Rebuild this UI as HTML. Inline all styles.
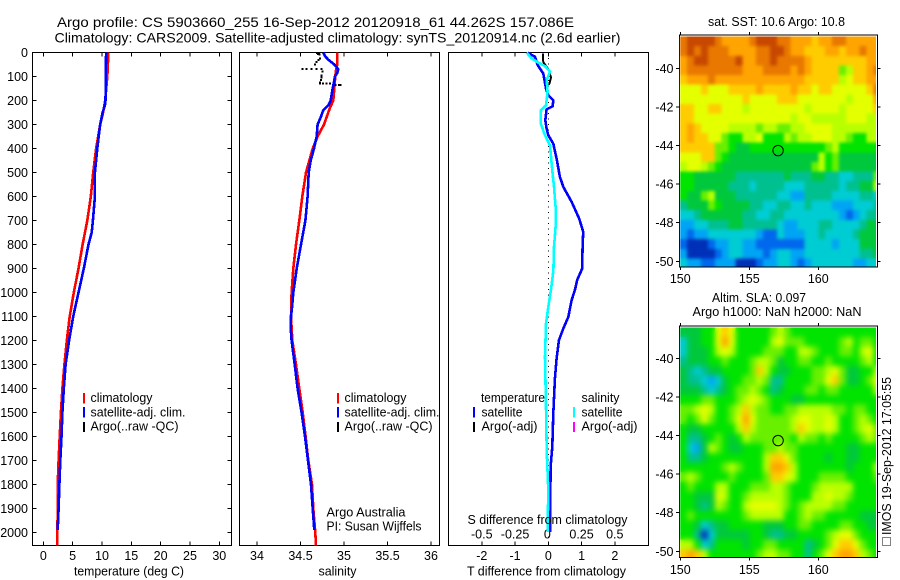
<!DOCTYPE html>
<html lang="en">
<head>
<meta charset="utf-8">
<title>Argo profile CS 5903660_255</title>
<style>
html,body{margin:0;padding:0;background:#fff;}
svg{display:block;font-family:"Liberation Sans",Arial,sans-serif;fill:#000;}
svg text{font-size:12.5px;}
.title{font-size:14px;}
.crisp{shape-rendering:crispEdges;}
</style>
</head>
<body>
<svg id="chart" xmlns="http://www.w3.org/2000/svg" width="900" height="580" viewBox="0 0 900 580">
  <rect x="0" y="0" width="900" height="580" fill="#fff"/>
  <text class="title" x="57" y="27" textLength="517" lengthAdjust="spacingAndGlyphs">Argo profile: CS 5903660_255 16-Sep-2012 20120918_61 44.262S 157.086E</text>
  <text class="title" x="54.5" y="42.5" textLength="566" lengthAdjust="spacingAndGlyphs">Climatology: CARS2009. Satellite-adjusted climatology: synTS_20120914.nc (2.6d earlier)</text>

  <g id="p1"></g>
  <g id="p2"></g>
  <g id="p3"></g>
  <g id="m1"></g>
  <g id="m2"></g>

  <text x="74" y="575.5" textLength="110" lengthAdjust="spacingAndGlyphs">temperature (deg C)</text>
  <text x="318.5" y="575.5" textLength="38" lengthAdjust="spacingAndGlyphs">salinity</text>
  <text x="467" y="575.5" textLength="159" lengthAdjust="spacingAndGlyphs">T difference from climatology</text>
  <text x="467.5" y="524" textLength="160" lengthAdjust="spacingAndGlyphs">S difference from climatology</text>

  <g>
    <rect class="crisp" x="83" y="393" width="2" height="10.5" fill="#f00"/>
    <rect class="crisp" x="83" y="407" width="2" height="10.5" fill="#00f"/>
    <rect class="crisp" x="83" y="422" width="2" height="10" fill="#000"/>
    <text x="90.5" y="402" textLength="62" lengthAdjust="spacingAndGlyphs">climatology</text>
    <text x="90.5" y="416.5" textLength="95" lengthAdjust="spacingAndGlyphs">satellite-adj. clim.</text>
    <text x="90.5" y="430.5" textLength="88" lengthAdjust="spacingAndGlyphs">Argo(..raw -QC)</text>
  </g>
  <g>
    <rect class="crisp" x="337" y="393" width="2" height="10.5" fill="#f00"/>
    <rect class="crisp" x="337" y="407" width="2" height="10.5" fill="#00f"/>
    <rect class="crisp" x="337" y="422" width="2" height="10" fill="#000"/>
    <text x="344.5" y="402" textLength="62" lengthAdjust="spacingAndGlyphs">climatology</text>
    <text x="344.5" y="416.5" textLength="95" lengthAdjust="spacingAndGlyphs">satellite-adj. clim.</text>
    <text x="344.5" y="430.5" textLength="88" lengthAdjust="spacingAndGlyphs">Argo(..raw -QC)</text>
  </g>
  <text x="326.5" y="516.5" textLength="79" lengthAdjust="spacingAndGlyphs">Argo Australia</text>
  <text x="326.5" y="530.5" textLength="95" lengthAdjust="spacingAndGlyphs">PI: Susan Wijffels</text>

  <g>
    <text x="481" y="402" textLength="64" lengthAdjust="spacingAndGlyphs">temperature</text>
    <rect class="crisp" x="473" y="407" width="2" height="10.5" fill="#00f"/>
    <rect class="crisp" x="473" y="422" width="2" height="10" fill="#000"/>
    <text x="481.5" y="416.5" textLength="41" lengthAdjust="spacingAndGlyphs">satellite</text>
    <text x="481.5" y="430.5" textLength="56" lengthAdjust="spacingAndGlyphs">Argo(-adj)</text>
    <text x="581.5" y="402" textLength="38" lengthAdjust="spacingAndGlyphs">salinity</text>
    <rect class="crisp" x="573" y="407" width="2" height="10.5" fill="#0ff"/>
    <rect class="crisp" x="573" y="422" width="2" height="10" fill="#f0f"/>
    <text x="581.5" y="416.5" textLength="41" lengthAdjust="spacingAndGlyphs">satellite</text>
    <text x="581.5" y="430.5" textLength="56" lengthAdjust="spacingAndGlyphs">Argo(-adj)</text>
  </g>

  <text x="708" y="26" textLength="137" lengthAdjust="spacingAndGlyphs">sat. SST: 10.6 Argo: 10.8</text>
  <text x="712" y="302" textLength="94" lengthAdjust="spacingAndGlyphs">Altim. SLA: 0.097</text>
  <text x="692.5" y="316" textLength="169" lengthAdjust="spacingAndGlyphs">Argo h1000: NaN h2000: NaN</text>

  <rect class="crisp" x="882.5" y="537.5" width="8" height="8" fill="none" stroke="#000" stroke-width="1" stroke-dasharray="1 1"/>
  <text transform="translate(891,535) rotate(-90)" textLength="158" lengthAdjust="spacingAndGlyphs">IMOS 19-Sep-2012 17:05:55</text>
</svg>

<script>
/* Depth axis and tick labels */
const depthTicks = [0,100,200,300,400,500,600,700,800,900,1000,1100,1200,1300,1400,1500,1600,1700,1800,1900,2000];
const tempTicks = [0,5,10,15,20,25,30];
const salTicks = [34,34.5,35,35.5,36];
const salTickLabels = ['34','34.5','35','35.5','36'];
const tDiffTicks = [-2,-1,0,1,2];
const sDiffTicks = [-0.5,-0.25,0,0.25,0.5];
const sDiffTickLabels = ['-0.5','-0.25','0','0.25','0.5'];
const lonTicks = [150,155,160];
const sstLatTicks = [-40,-42,-44,-46,-48,-50];
const slaLatTicks = [-40,-42,-44,-46,-48,-50];

/* Temperature profiles */
const tempClimDepth = [0,60,100,200,250,300,400,500,600,700,800,900,1000,1100,1200,1300,1400,1500,1600,1700,1800,1900,2000,2055];
const tempClim = [11.08,11.0,10.9,10.55,10.2,9.7,9.0,8.5,8.1,7.5,6.7,6.0,5.2,4.5,4.0,3.6,3.25,3.0,2.8,2.6,2.45,2.45,2.4,2.35];
const tempSatDepth = [0,100,200,220,250,300,350,400,500,600,700,750,800,900,1000,1100,1200,1300,1400,1500,1600,1700,1800,1900,1990];
const tempSat = [10.7,10.65,10.6,10.5,10.1,9.7,9.45,9.2,8.8,8.8,8.45,8.25,7.7,6.9,6.0,5.1,4.4,3.8,3.5,3.25,3.1,2.9,2.75,2.6,2.45];
const tempArgoDepth = [5,40,80,110,140];
const tempArgo = [10.75,10.75,10.8,10.85,10.85];

/* Salinity profiles */
const salClimDepth = [0,50,75,100,200,230,300,350,400,500,600,700,800,900,1000,1100,1200,1300,1400,1500,1600,1700,1800,1900,2000,2055];
const salClim = [34.923,34.923,34.908,34.9,34.877,34.839,34.77,34.697,34.64,34.563,34.521,34.486,34.448,34.417,34.398,34.391,34.406,34.448,34.486,34.525,34.559,34.59,34.632,34.647,34.67,34.678];
const salSatDepth = [0,15,30,50,70,85,100,150,200,220,240,270,300,350,400,450,500,600,700,800,900,1000,1050,1100,1150,1200,1300,1400,1500,1600,1700,1800,1900,1990];
const salSat = [34.762,34.782,34.82,34.889,34.935,34.923,34.897,34.87,34.847,34.82,34.762,34.732,34.697,34.686,34.655,34.617,34.594,34.582,34.556,34.506,34.456,34.417,34.406,34.391,34.387,34.398,34.433,34.467,34.513,34.552,34.586,34.621,34.64,34.659];
const salArgoDepth = [2,4,6,9,25,32,40,50,68,68,68,68,68,80,95,105,115,125,130,130,130,130,130,135,135,135];
const salArgo = [34.69,34.71,34.7,34.72,34.724,34.705,34.686,34.667,34.521,34.571,34.628,34.686,34.743,34.751,34.743,34.74,34.735,34.725,34.724,34.76,34.8,34.839,34.877,34.905,34.94,34.96];

/* Differences from climatology */
const tDiffDepth = [0,18,53,88,150,178,199,224,237,282,317,345,380,442,518,560,622,692,747,824,900,948,990,1032,1102,1150,1199,1275,1359,1504,1643,1726,1997];
const tDiff = [-0.63,-0.4,-0.32,-0.15,-0.07,0,0.15,0.13,-0.05,-0.09,-0.05,0,0.15,0.25,0.35,0.45,0.7,0.93,1.05,1.03,1.02,0.87,0.8,0.7,0.6,0.45,0.32,0.25,0.2,0.15,0.12,0.07,0.05];
const sDiffDepth = [0,25,42,57,80,115,164,220,240,296,345,387,463,560,643,726,810,907,987,1060,1130,1268,1476,1657,1824,1997];
const sDiff = [-0.163,-0.125,-0.075,-0.025,0.013,-0.012,-0.005,-0.017,-0.055,-0.057,-0.025,0.013,0.025,0.043,0.055,0.055,0.043,0.038,0.02,0,-0.017,-0.025,-0.017,-0.012,0,-0.005];
const tArgoDiffDepth = [5,20,40,60,75,90,105,120,135];
const tArgoDiff = [-0.16,-0.16,-0.15,-0.05,0.03,0.05,0.08,0.05,0.02];

/* Map colour levels */
const levelColors = ['#0030b8','#0068ec','#00a4f4','#00ccd4','#00c090','#00c83c','#00e400','#68f000','#b8ff00','#e4ff00','#ffcc00','#ffa400','#e87800','#c84800'];

/* Satellite SST, colour level per half-degree cell, north to south */
const sstRows = [
[12,13,13,13,13,12,11,11,11,11,12,13,13,13,12,12,11,11,11,10,11,11,12,12,11,11,11,11,11],
[12,13,12,13,12,12,12,11,11,11,11,12,12,13,13,12,11,11,10,10,10,11,11,10,11,11,12,11,11],
[11,12,13,13,12,12,12,12,13,11,11,12,12,13,12,12,12,12,11,10,10,10,10,10,10,10,10,11,11],
[11,12,12,12,12,12,12,12,12,11,11,11,12,12,12,12,11,12,11,10,10,10,10,7,8,10,10,11,12],
[10,11,11,11,12,11,11,11,11,11,11,11,11,11,11,11,11,11,10,10,10,10,10,8,9,10,10,11,11],
[9,9,9,10,9,9,9,10,10,10,10,11,10,10,10,10,11,10,10,9,10,10,9,9,9,9,9,10,12],
[9,9,9,9,9,9,9,9,9,10,9,9,9,9,10,10,10,9,9,9,9,9,9,9,8,9,9,9,11],
[10,10,9,9,10,10,9,9,9,8,9,9,9,9,9,9,9,9,8,9,9,9,9,8,9,9,9,9,10],
[10,10,9,9,9,9,9,9,9,9,9,9,9,9,9,9,8,9,9,8,8,8,8,8,9,9,9,8,8],
[10,11,10,9,9,9,9,8,8,8,8,7,8,8,7,7,8,8,9,9,9,9,8,8,8,8,8,8,8],
[10,11,10,10,9,9,7,6,6,8,8,9,6,6,6,8,7,8,8,9,9,9,8,8,7,6,6,8,8],
[10,10,10,10,10,7,7,6,5,5,6,6,6,6,6,6,6,6,6,6,6,7,8,6,6,6,6,6,6],
[9,9,9,10,10,7,6,5,5,5,5,5,5,5,5,5,5,5,5,5,8,6,7,5,5,5,5,5,5],
[8,9,9,8,7,6,5,5,5,5,5,5,5,5,5,5,5,5,5,7,8,6,7,5,5,5,5,5,5],
[6,6,5,5,5,5,5,5,4,4,4,4,4,4,4,5,4,4,4,5,5,4,4,3,3,4,4,4,7],
[6,6,5,5,5,5,5,4,4,4,3,4,4,4,4,3,3,3,4,4,4,4,4,3,4,4,5,5,8],
[6,5,5,7,8,5,5,5,4,4,4,4,4,4,3,3,2,2,4,4,4,4,3,3,3,3,4,4,3],
[4,5,5,5,7,6,5,5,5,5,4,4,3,3,4,4,3,3,4,3,3,3,2,2,2,3,3,3,4],
[3,3,4,5,5,5,5,5,5,4,4,3,3,4,4,3,3,3,3,3,3,3,3,2,1,2,3,4,4],
[2,2,3,3,4,4,4,5,5,4,4,4,4,4,3,2,2,3,3,3,4,4,3,3,3,3,4,5,5],
[2,1,2,2,3,3,3,3,3,3,3,2,1,1,3,2,2,2,3,3,4,3,3,3,3,4,5,5,5],
[1,0,0,0,1,2,2,3,3,2,2,1,1,1,1,1,1,1,3,3,3,3,2,3,3,3,5,5,5],
[2,0,0,0,0,1,2,3,3,2,2,2,1,2,3,3,2,2,3,3,3,3,3,3,3,3,4,4,5],
[3,2,2,1,1,2,2,2,0,0,0,1,2,2,3,3,2,1,2,3,3,3,3,3,3,2,2,3,3]
];

/* Altimetric SLA, colour level per half-degree cell, north to south */
const slaRows = [
[5,5,5,6,6,9,10,9,6,6,6,6,6,7,8,7,6,6,6,6,6,6,6,6,6,6,6,6,6],
[3,5,5,6,6,9,11,9,6,6,6,6,6,8,9,7,7,7,6,6,6,6,6,7,8,6,7,7,6],
[3,5,5,5,6,8,9,8,6,6,6,6,7,7,7,6,6,8,8,7,6,6,6,7,7,6,8,9,6],
[4,5,5,5,6,6,7,6,6,6,7,8,8,7,5,6,6,7,7,6,6,7,6,6,6,6,7,8,6],
[5,4,3,4,5,5,6,6,6,6,7,10,8,6,5,5,6,6,6,7,7,8,9,7,5,5,6,6,8],
[5,4,4,3,2,3,5,6,6,7,7,8,7,4,4,6,6,6,6,7,7,9,10,7,5,5,6,7,9],
[5,5,5,4,3,4,5,6,7,7,8,7,6,4,5,6,6,6,7,7,6,7,7,6,6,6,6,6,8],
[6,6,6,7,7,6,6,6,7,8,9,8,7,6,6,6,5,5,6,6,6,6,6,6,6,6,6,6,6],
[7,7,8,9,8,6,6,7,8,10,8,7,7,6,6,7,7,8,8,8,8,8,7,7,6,7,7,6,6],
[7,6,7,9,7,6,6,7,9,11,9,7,7,7,7,7,8,9,9,8,8,9,8,6,6,7,8,7,6],
[6,5,5,6,6,6,6,6,8,10,8,7,7,7,7,7,8,10,9,8,8,9,8,6,6,7,8,9,7],
[6,4,4,5,6,7,6,5,6,8,7,7,7,7,7,7,6,8,7,7,6,7,6,6,6,6,7,8,7],
[6,3,2,5,8,7,6,5,5,6,6,6,7,7,8,7,7,6,6,6,6,6,6,6,5,5,6,6,6],
[6,4,4,5,6,6,6,6,6,6,6,6,8,10,10,9,7,6,6,6,6,5,6,6,5,5,6,6,6],
[6,6,6,6,6,6,7,8,7,6,6,6,8,11,11,10,8,6,6,6,6,6,6,6,5,6,6,6,8],
[7,8,7,6,6,6,6,7,6,6,6,6,7,10,10,9,8,6,6,6,7,7,7,7,6,6,6,6,7],
[6,7,6,6,6,8,8,6,6,6,7,7,7,8,8,7,6,6,6,7,8,8,8,8,8,6,6,6,6],
[6,6,5,5,5,9,8,6,6,7,8,8,8,8,8,7,6,6,6,8,8,9,8,8,7,6,6,6,6],
[6,6,5,4,5,8,7,6,6,8,9,9,9,9,8,7,6,7,8,8,8,8,7,7,6,6,6,6,6],
[6,7,6,6,6,6,6,6,6,7,8,8,8,8,8,6,6,7,8,7,7,6,6,6,6,6,5,5,5],
[6,6,5,3,4,5,5,6,6,6,6,6,5,5,5,6,6,7,7,6,6,6,6,7,7,6,6,5,5],
[6,6,4,0,3,5,5,5,5,5,6,6,5,4,4,5,5,6,6,6,6,7,8,9,9,7,6,6,6],
[8,8,6,3,4,6,6,6,6,5,6,6,7,7,6,6,6,6,4,5,6,7,9,10,10,9,7,6,6],
[10,11,10,8,6,6,6,6,6,6,6,7,8,8,7,7,6,6,4,6,7,9,10,11,11,10,8,7,6]
];

/* Float location */
const floatLon = [157.086];
const floatLat = [-44.262];

const NS = 'http://www.w3.org/2000/svg';
function mk(parent, tag, attrs) {
  const el = document.createElementNS(NS, tag);
  for (const k in attrs) el.setAttribute(k, attrs[k]);
  parent.appendChild(el);
  return el;
}

/* Axis functions */
const PANEL_TOP = 52.5, PANEL_BOTTOM = 545.5;
const LINE_W = 2.6;
const depthY = d => PANEL_TOP + d * 0.24;
const tempX = v => 43.3 + v * 5.867;
const salX = v => 257 + (v - 34) * 87;
const tDiffX = v => 548.3 + v * 33.25;
const sDiffX = v => 548.3 + v * 133;
const lonX = v => 680.3 + (v - 150) * 13.8;
const sstLatY = v => 68.3 + (-40 - v) * 19.3;
const slaLatY = v => 358.3 + (-40 - v) * 19.3;

function polyPoints(depths, values, xf) {
  return depths.map((d, i) => xf(values[i]).toFixed(1) + ',' + depthY(d).toFixed(1)).join(' ');
}

function panelFrame(g, left, right) {
  const frame = mk(g, 'rect', {x:left, y:PANEL_TOP, width:right-left, height:PANEL_BOTTOM-PANEL_TOP, fill:'#fff', stroke:'#000', 'stroke-width':1.2, class:'crisp'});
  
  
}

function xTick(g, x) {
  const top = mk(g, 'line', {x1:x, x2:x, y1:PANEL_TOP, y2:PANEL_TOP+4, stroke:'#000', 'stroke-width':1, class:'crisp'});
  
  
  const bot = mk(g, 'line', {x1:x, x2:x, y1:PANEL_BOTTOM-4, y2:PANEL_BOTTOM, stroke:'#000', 'stroke-width':1, class:'crisp'});
  
  
}

function bottomLabel(g, x, str, y) {
  const t = mk(g, 'text', {x:x, y:y, 'text-anchor':'middle'});
  t.textContent = str;
  
  
}

/* Panel 1 */
const p1 = document.getElementById('p1');
panelFrame(p1, 32.5, 231.5);
depthTicks.forEach(d => {
  const y = depthY(d);
  const a = mk(p1, 'line', {x1:32.5, x2:36.5, y1:y, y2:y, stroke:'#000', 'stroke-width':1, class:'crisp'});
  
  
  const b = mk(p1, 'line', {x1:227.5, x2:231.5, y1:y, y2:y, stroke:'#000', 'stroke-width':1, class:'crisp'});
  
  
  const t = mk(p1, 'text', {x:28, y:y+4.5, 'text-anchor':'end'});
  t.textContent = String(d);
  
  
});
tempTicks.forEach(v => {
  xTick(p1, tempX(v));
  bottomLabel(p1, tempX(v), String(v), 560);
});
const tArgoLine = mk(p1, 'polyline', {points:polyPoints(tempArgoDepth, tempArgo, tempX), fill:'none', stroke:'#000', 'stroke-width':2, class:'crisp'});


const tClimLine = mk(p1, 'polyline', {points:polyPoints(tempClimDepth, tempClim, tempX), fill:'none', stroke:'#f00', 'stroke-width':LINE_W, class:'crisp'});


const tSatLine = mk(p1, 'polyline', {points:polyPoints(tempSatDepth, tempSat, tempX), fill:'none', stroke:'#00f', 'stroke-width':LINE_W, class:'crisp'});



/* Panel 2 */
const p2 = document.getElementById('p2');
panelFrame(p2, 239.5, 439.5);
salTicks.forEach((v, i) => {
  xTick(p2, salX(v));
  bottomLabel(p2, salX(v), salTickLabels[i], 560);
});
const sClimLine = mk(p2, 'polyline', {points:polyPoints(salClimDepth, salClim, salX), fill:'none', stroke:'#f00', 'stroke-width':LINE_W, class:'crisp'});


salArgo.forEach((v, i) => {
  const pt = mk(p2, 'rect', {x:salX(v)-1, y:depthY(salArgoDepth[i])-1, width:2, height:2, fill:'#000', class:'crisp'});
  
  
});
const sSatLine = mk(p2, 'polyline', {points:polyPoints(salSatDepth, salSat, salX), fill:'none', stroke:'#00f', 'stroke-width':LINE_W, class:'crisp'});



/* Panel 3 */
const p3 = document.getElementById('p3');
panelFrame(p3, 448.5, 648.5);
tDiffTicks.forEach(v => {
  xTick(p3, tDiffX(v));
  bottomLabel(p3, tDiffX(v), String(v), 560);
});
sDiffTicks.forEach((v, i) => {
  bottomLabel(p3, sDiffX(v) - (v === 0 ? 1 : 0), sDiffTickLabels[i], 538.5);
});
const zeroLine = mk(p3, 'line', {x1:tDiffX(0), x2:tDiffX(0), y1:PANEL_TOP, y2:PANEL_BOTTOM, stroke:'#000', 'stroke-width':1, 'stroke-dasharray':'1 4.5', class:'crisp'});


const tArgoDiffLine = mk(p3, 'polyline', {points:polyPoints(tArgoDiffDepth, tArgoDiff, tDiffX), fill:'none', stroke:'#000', 'stroke-width':2, class:'crisp'});


const tDiffLine = mk(p3, 'polyline', {points:polyPoints(tDiffDepth, tDiff, tDiffX), fill:'none', stroke:'#00f', 'stroke-width':LINE_W, class:'crisp'});


const sDiffLine = mk(p3, 'polyline', {points:polyPoints(sDiffDepth, sDiff, sDiffX), fill:'none', stroke:'#0ff', 'stroke-width':LINE_W, class:'crisp'});



/* Maps */
function drawMap(g, rows, latY, latTop, frameTop, frameBottom, latTicks, labelY, clipId, blurPx) {
  const frame = mk(g, 'rect', {x:679.5, y:frameTop, width:198, height:frameBottom-frameTop, fill:'#fff', stroke:'#000', 'stroke-width':1.4, class:'crisp'});
  
  
  const clip = mk(g, 'clipPath', {id:clipId});
  mk(clip, 'rect', {x:679.5, y:frameTop+1.5, width:196.5, height:frameBottom-frameTop-2});
  const holder = mk(g, 'g', {'clip-path':'url(#'+clipId+')'});
  
  
  const cells = mk(holder, 'g', {id:clipId+'-cells', class:'crisp'});
  
  
  rows.forEach((row, r) => {
    row.forEach((lvl, c) => {
      const x0 = lonX(150 + c * 0.5), x1 = lonX(150 + (c + 1) * 0.5);
      const y0 = latY(latTop - r * 0.5), y1 = latY(latTop - (r + 1) * 0.5);
      const cell = mk(cells, 'rect', {x:x0, y:y0, width:x1-x0+0.6, height:y1-y0+0.6, fill:levelColors[lvl]});
      
      
    });
  });
  const soft = mk(holder, 'use', {href:'#'+clipId+'-cells', style:'filter:blur('+blurPx+'px)'});
  
  
  lonTicks.forEach(v => {
    const x = lonX(v);
    const a = mk(g, 'line', {x1:x, x2:x, y1:frameTop-3, y2:frameTop, stroke:'#000', 'stroke-width':1, class:'crisp'});
    
    
    const b = mk(g, 'line', {x1:x, x2:x, y1:frameBottom, y2:frameBottom+3, stroke:'#000', 'stroke-width':1, class:'crisp'});
    
    
    const t = mk(g, 'text', {x:x, y:labelY, 'text-anchor':'middle'});
    t.textContent = String(v);
    
    
  });
  latTicks.forEach(v => {
    const y = latY(v);
    const a = mk(g, 'line', {x1:676, x2:680, y1:y, y2:y, stroke:'#000', 'stroke-width':1, class:'crisp'});
    
    
    const b = mk(g, 'line', {x1:877.5, x2:880.5, y1:y, y2:y, stroke:'#000', 'stroke-width':1, class:'crisp'});
    
    
    const t = mk(g, 'text', {x:673.5, y:y+4.5, 'text-anchor':'end'});
    t.textContent = String(v);
    
    
  });
  const ring = mk(g, 'circle', {cx:lonX(floatLon[0]), cy:latY(floatLat[0]), r:5.2, fill:'none', stroke:'#000', 'stroke-width':1});
  
  
}
drawMap(document.getElementById('m1'), sstRows, sstLatY, -38.35, 35, 267, sstLatTicks, 283, 'clip-sst', 1.6);
drawMap(document.getElementById('m2'), slaRows, slaLatY, -38.4, 326, 557.5, slaLatTicks, 574, 'clip-sla', 3);
</script>
</body>
</html>
